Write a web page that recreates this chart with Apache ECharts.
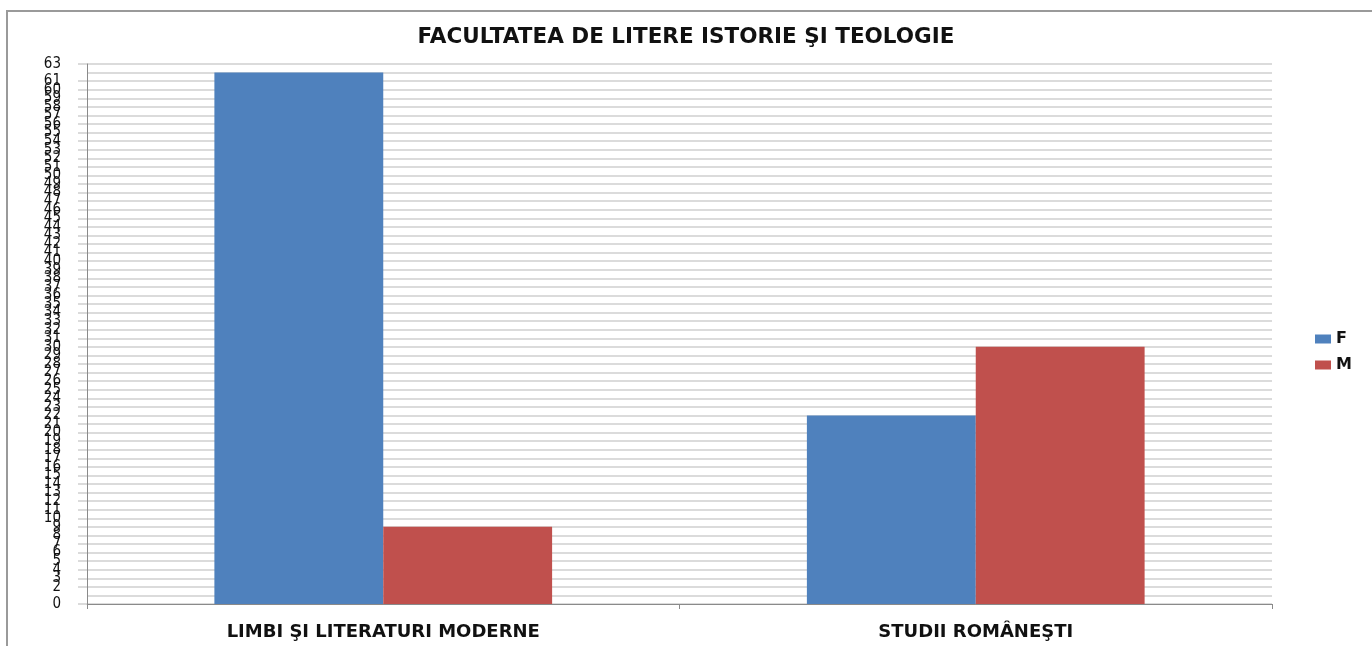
<!DOCTYPE html>
<html>
<head>
<meta charset="utf-8">
<script src="https://cdn.jsdelivr.net/npm/echarts@6/dist/echarts.min.js"></script>
<style>
  html, body { margin: 0; padding: 0; background: #fff; }
  #frame { position: absolute; left: 6px; top: 10px; right: 0; bottom: 0;
           border-left: 2px solid #9a9a9a; border-top: 2px solid #9a9a9a; }
  #chart { position: absolute; left: 0; top: 0; width: 1372px; height: 646px; }
</style>
</head>
<body>
<div id="frame"></div>
<div id="chart"></div>
<script>
// Students by specialisation and gender
const titleText = 'FACULTATEA DE LITERE ISTORIE ŞI TEOLOGIE';
const categories = ['LIMBI ŞI LITERATURI MODERNE', 'STUDII ROMÂNEŞTI'];
const seriesNames = ['F', 'M'];
const valuesF = [62, 22];
const valuesM = [9, 30];
const yMin = 0;
const yMax = 63;
const yStep = 1;

const chart = echarts.init(document.getElementById('chart'), null, { renderer: 'canvas' });
const gridColor = '#cfcfcf';
const boldFont = '"DejaVu Sans", "Liberation Sans", sans-serif';

chart.setOption({
  backgroundColor: 'transparent',
  animation: false,
  title: {
    text: titleText,
    left: 'center',
    top: 21,
    textStyle: { fontFamily: boldFont, fontWeight: 'bold', fontSize: 21.5, color: '#111' }
  },
  legend: {
    orient: 'vertical',
    left: 1310,
    top: 326,
    itemWidth: 16,
    itemHeight: 9,
    itemGap: 10,
    icon: 'rect',
    textStyle: { fontFamily: boldFont, fontWeight: 'bold', fontSize: 16, color: '#111' },
    data: seriesNames
  },
  grid: { left: 87, right: 100, top: 64, bottom: 42, containLabel: false },
  xAxis: {
    type: 'category',
    data: categories,
    axisLine: { lineStyle: { color: '#8a8a8a', width: 1 } },
    axisTick: { show: true, alignWithLabel: false, length: 5, lineStyle: { color: '#8a8a8a' } },
    axisLabel: { margin: 19, fontFamily: boldFont, fontWeight: 'bold', fontSize: 18, color: '#111' }
  },
  yAxis: {
    type: 'value',
    min: yMin,
    max: yMax,
    interval: yStep,
    axisLine: { show: true, lineStyle: { color: '#8a8a8a', width: 1 } },
    axisTick: { show: true, length: 9, lineStyle: { color: gridColor, width: 1.5 } },
    splitLine: { show: true, lineStyle: { color: gridColor, width: 1.5 } },
    axisLabel: {
      margin: 26,
      showMinLabel: true,
      showMaxLabel: true,
      fontFamily: '"DejaVu Sans Condensed", "Liberation Sans Narrow", sans-serif',
      fontSize: 15,
      color: '#111'
    }
  },
  series: [
    {
      name: seriesNames[0],
      type: 'bar',
      data: valuesF,
      barGap: '0%',
      barCategoryGap: '43%',
      itemStyle: { color: '#4F81BD' }
    },
    {
      name: seriesNames[1],
      type: 'bar',
      data: valuesM,
      barGap: '0%',
      barCategoryGap: '43%',
      itemStyle: { color: '#C0504D' }
    }
  ]
});
</script>
</body>
</html>
